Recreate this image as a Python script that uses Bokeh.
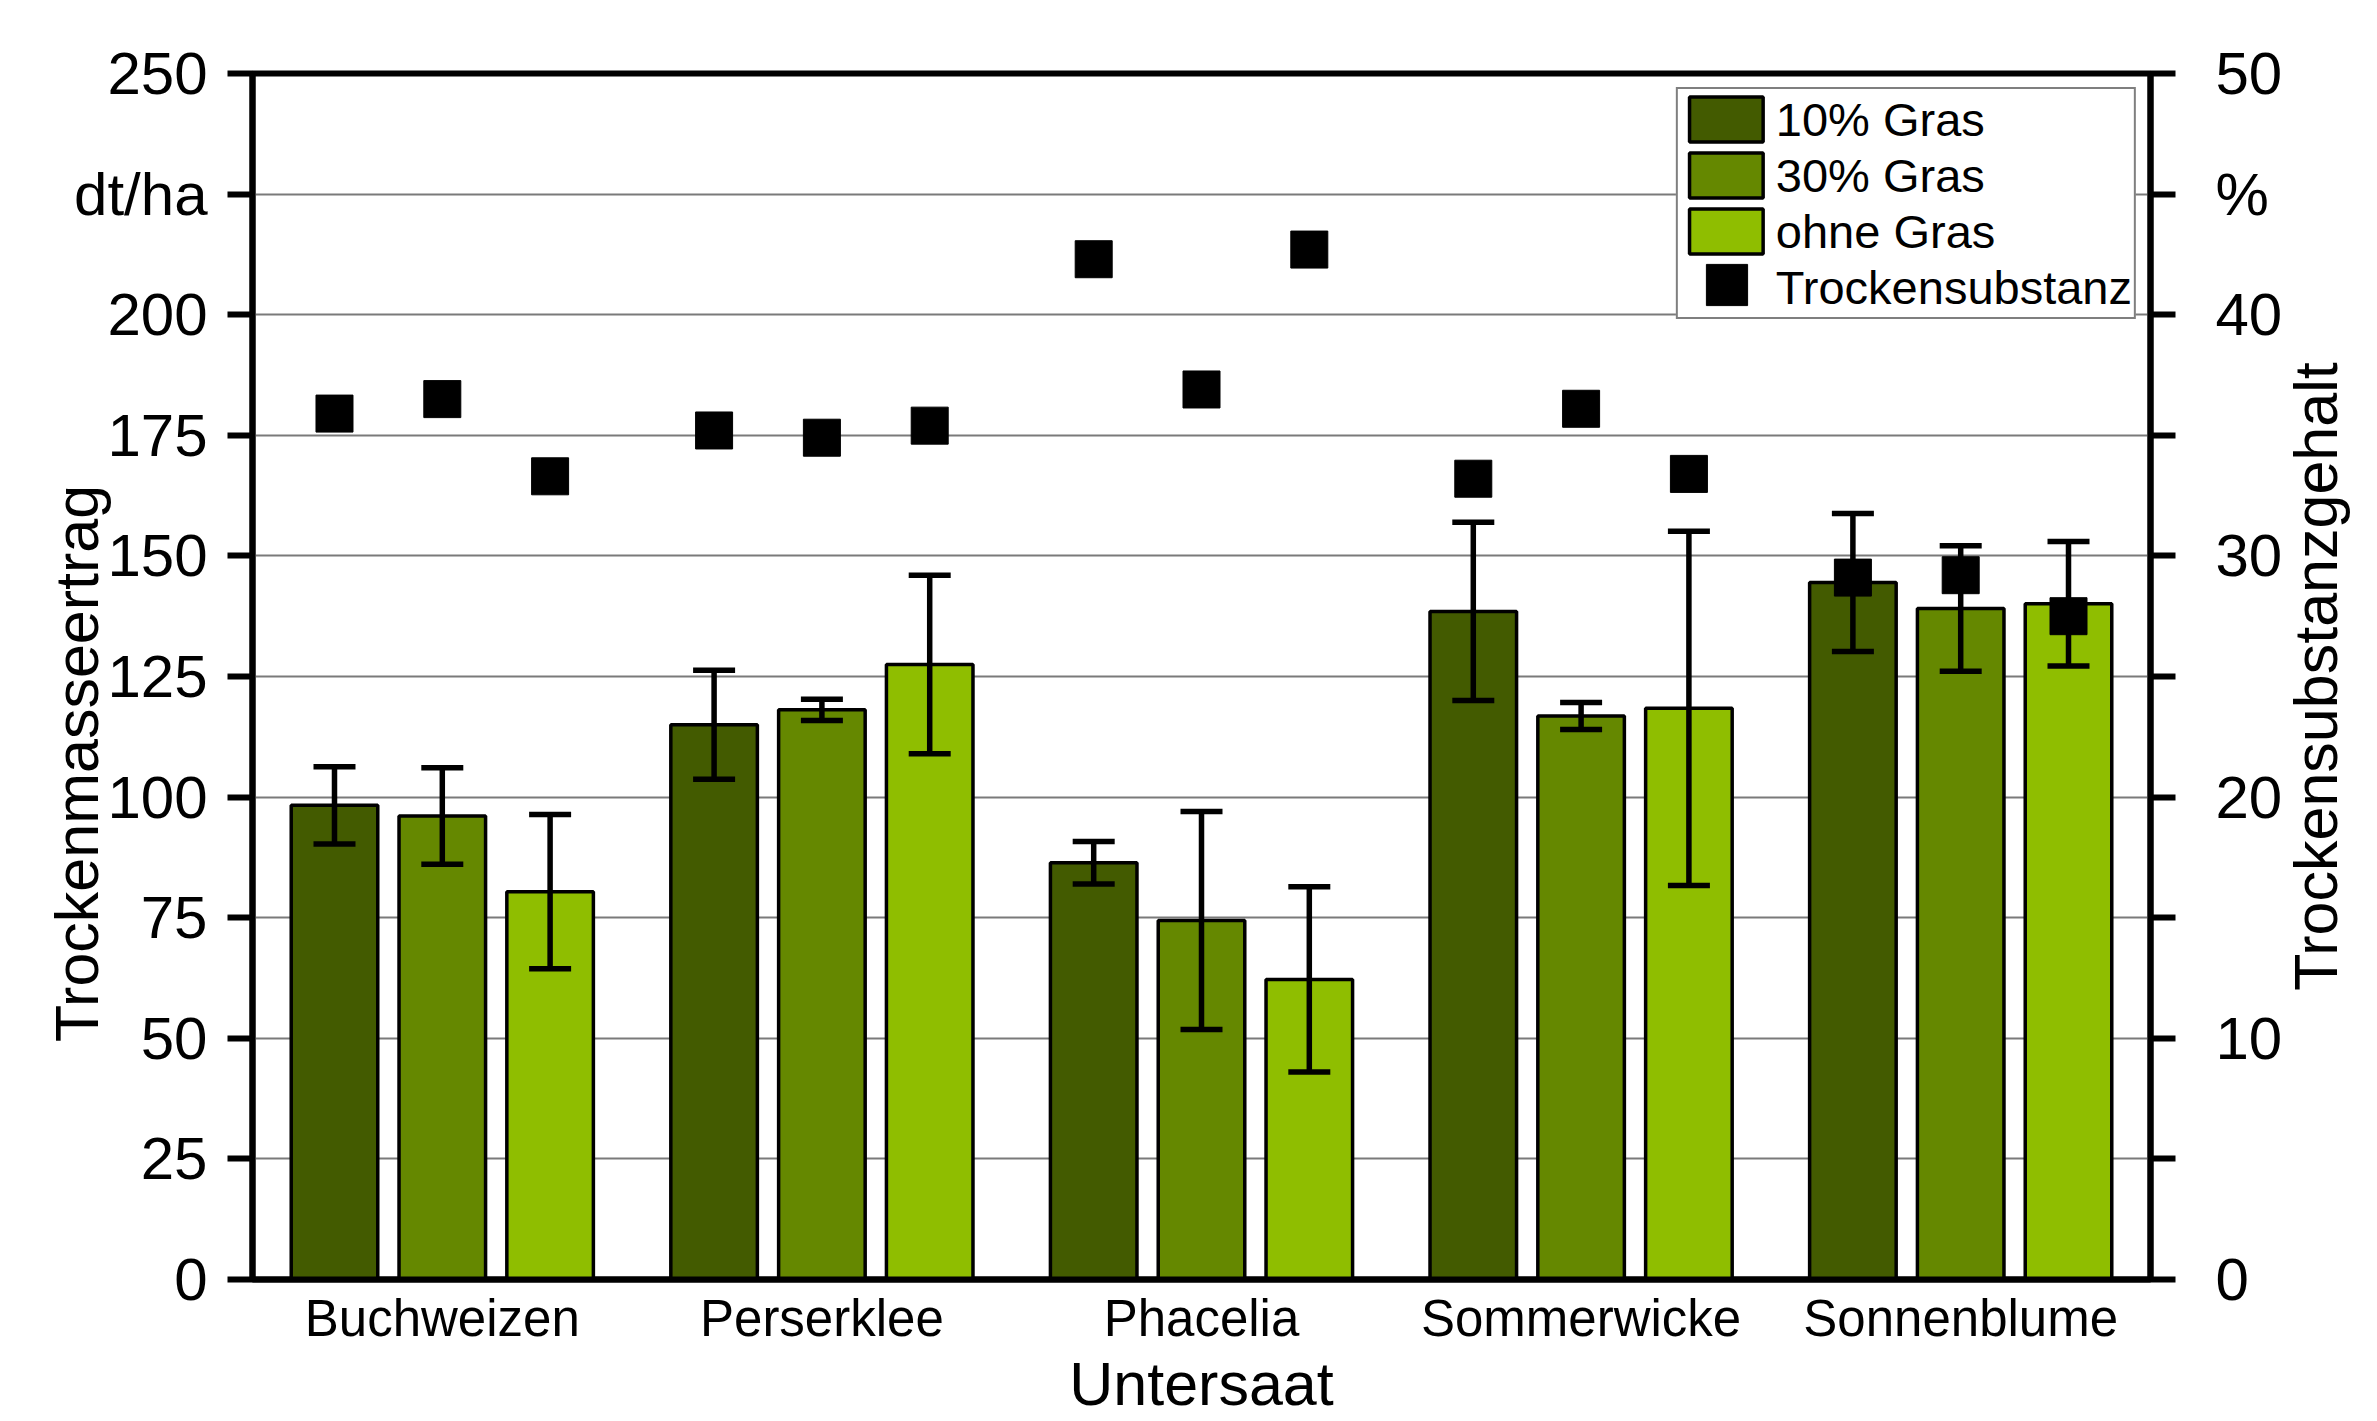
import math
from bokeh.plotting import figure
from bokeh.models import (ColumnDataSource, FactorRange, Range1d, LinearAxis,
                          FixedTicker, Label, Legend, LegendItem)
from bokeh.transform import dodge
from bokeh.embed import file_html
from bokeh.resources import INLINE

# ---- data ----
categories = ["Buchweizen", "Perserklee", "Phacelia", "Sommerwicke", "Sonnenblume"]
gras10 = [98.3, 115.0, 86.4, 138.5, 144.5]
gras10_err = [8.0, 11.3, 4.4, 18.5, 14.3]
gras30 = [96.1, 118.1, 74.4, 116.8, 139.1]
gras30_err = [10.0, 2.2, 22.6, 2.8, 13.0]
ohne = [80.4, 127.5, 62.2, 118.4, 140.1]
ohne_err = [16.0, 18.5, 19.2, 36.7, 12.9]
ts10 = [35.9, 35.2, 42.3, 33.2, 29.1]
ts30 = [36.5, 34.9, 36.9, 36.1, 29.2]
ts_ohne = [33.3, 35.4, 42.7, 33.4, 27.5]
left_ticks = [0, 25, 50, 75, 100, 125, 150, 175, 200, 225, 250]
right_ticks = [0, 5, 10, 15, 20, 25, 30, 35, 40, 45, 50]

series = [
    ("10% Gras", gras10, gras10_err, ts10, "#435B00", -0.284),
    ("30% Gras", gras30, gras30_err, ts30, "#658800", 0.0),
    ("ohne Gras", ohne, ohne_err, ts_ohne, "#8FBE00", 0.284),
]

FONT = "Liberation Sans"
W, H = 2377, 1421
FL, FR, FT, FB = 252, 2150, 73, 1279   # frame edges in px

p = figure(x_range=FactorRange(*categories), y_range=Range1d(0, 250),
           width=W, height=H, output_backend="svg", toolbar_location=None,
           min_border_left=FL, min_border_right=W - FR, min_border_top=FT,
           min_border_bottom=H - FB, background_fill_color="white",
           border_fill_color="white")
p.x_range.range_padding = 0
p.extra_y_ranges = {"ts": Range1d(0, 50)}

sources = []
for name, vals, errs, ts, color, off in series:
    src = ColumnDataSource(dict(
        cat=categories, val=vals,
        up=[v + e for v, e in zip(vals, errs)],
        lo=[v - e for v, e in zip(vals, errs)],
        ts=ts))
    sources.append((src, off))
    p.vbar(x=dodge("cat", off, range=p.x_range), top="val", width=0.228,
           source=src, fill_color=color, line_color="black", line_width=3.5,
           legend_label=name)

for src, off in sources:
    xs = dodge("cat", off, range=p.x_range)
    p.segment(x0=xs, y0="lo", x1=xs, y1="up", source=src,
              line_color="black", line_width=5.5)
    p.scatter(x=xs, y="up", source=src, marker="dash", size=42,
              line_color="black", line_width=5.5)
    p.scatter(x=xs, y="lo", source=src, marker="dash", size=42,
              line_color="black", line_width=5.5)

ts_renderers = []
for src, off in sources:
    xs = dodge("cat", off, range=p.x_range)
    r = p.scatter(x=xs, y="ts", source=src, marker="square", size=37,
                  fill_color="black", line_color="black", y_range_name="ts",
                  legend_label="Trockensubstanz")
    ts_renderers.append(r)

# left axis (ticks + labels)
ya = p.yaxis[0]
ya.ticker = FixedTicker(ticks=left_ticks)
ya.major_label_overrides = {225: "dt/ha"}

# right axis (ticks + labels)
ra = LinearAxis(y_range_name="ts", ticker=FixedTicker(ticks=right_ticks),
                major_label_overrides={5: "", 15: "", 25: "", 35: "", 45: "%"})
p.add_layout(ra, "right")

for ax in (ya, ra):
    ax.axis_line_width = 6
    ax.axis_line_color = "black"
    ax.major_tick_line_width = 6
    ax.major_tick_line_color = "black"
    ax.major_tick_out = 25
    ax.major_tick_in = 0
    ax.minor_tick_line_color = None
    ax.major_label_text_font = FONT
    ax.major_label_text_font_size = "60px"
    ax.major_label_text_color = "black"
ya.major_label_standoff = 20
ra.major_label_standoff = 40

# vertical axis titles, both reading bottom-to-top
def make_title(text, x_canvas, y_val, rng):
    lbl = Label(x=x_canvas, y=y_val, y_units="data", text=text,
                angle=math.pi / 2, text_align="center", text_baseline="middle",
                text_font=FONT, text_font_size="61px", text_color="black")
    try:
        lbl.x_units = "canvas"
    except Exception:
        lbl.x_units = "screen"
    if rng != "default":
        lbl.y_range_name = rng
    return lbl

p.add_layout(make_title("Trockenmasseertrag", 76, 107, "default"), "left")
p.add_layout(make_title("Trockensubstanzgehalt", 2315, 25, "ts"), "right")

xa = p.xaxis[0]
xa.axis_line_width = 6
xa.axis_line_color = "black"
xa.major_tick_line_color = None
xa.major_tick_out = 0
xa.major_tick_in = 0
xa.minor_tick_line_color = None
xa.major_label_text_font = FONT
xa.major_label_text_font_size = "51px"
xa.major_label_text_color = "black"
xa.major_label_standoff = 10
xa.axis_label = "Untersaat"
xa.axis_label_text_font = FONT
xa.axis_label_text_font_size = "61px"
xa.axis_label_text_font_style = "normal"
xa.axis_label_text_color = "black"
xa.axis_label_standoff = 0

p.xgrid.visible = False
p.ygrid.grid_line_color = "#7a7a7a"
p.ygrid.grid_line_width = 2

p.outline_line_color = "black"
p.outline_line_width = 6
p.outline_line_alpha = 1

lg = p.legend[0]
lg.location = "top_right"
lg.margin = 14
lg.padding = 2
lg.spacing = 0
lg.glyph_width = 92
lg.glyph_height = 56
lg.label_height = 47
lg.label_standoff = 4
lg.label_text_font = FONT
lg.label_text_font_size = "47px"
lg.label_text_color = "black"
lg.border_line_color = "black"
lg.border_line_width = 2
lg.background_fill_color = "white"
lg.background_fill_alpha = 1

# larger legend square for "Trockensubstanz", drawn over the row-4 glyph slot
GB = 103
cx, cy = 1726, 284  # centre of the row-4 glyph slot (canvas px)
lg2 = Legend(items=[LegendItem(label=" ", renderers=[ts_renderers[0]])],
             location=(cx - GB / 2 - FL, FB - (cy + GB / 2)),
             glyph_width=GB, glyph_height=GB, label_height=GB,
             padding=0, margin=0, spacing=0, label_standoff=0,
             label_text_font_size="1px", border_line_color=None,
             background_fill_alpha=0)
p.add_layout(lg2)

open("out.html", "w").write(file_html(p, INLINE))
